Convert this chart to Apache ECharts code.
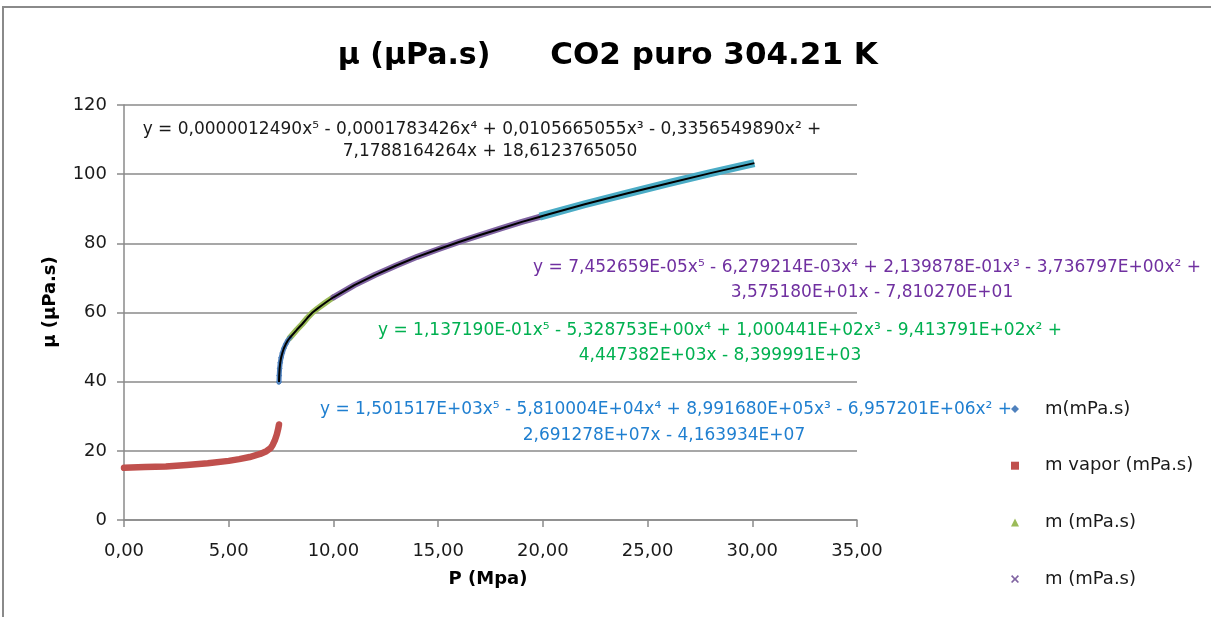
<!DOCTYPE html>
<html>
<head>
<meta charset="utf-8">
<script src="https://cdn.jsdelivr.net/npm/echarts@6/dist/echarts.min.js"></script>
<style>
  html, body { margin: 0; padding: 0; background: #ffffff; }
  #chart { width: 1211px; height: 617px; }
</style>
</head>
<body>
<div id="chart"></div>
<script>
// ---- axis ticks ----
const xTicks = [0, 5, 10, 15, 20, 25, 30, 35];
const yTicks = [0, 20, 40, 60, 80, 100, 120];

// ---- saturated vapour branch, P (MPa) / viscosity (µPa.s) ----
const vaporP  = [0.00, 1.00, 2.00, 3.00, 4.00, 5.00, 5.50, 6.00, 6.50, 6.80, 7.00, 7.10, 7.20, 7.30, 7.36, 7.40];
const vaporMu = [15.1, 15.3, 15.5, 15.9, 16.4, 17.1, 17.6, 18.2, 19.1, 19.9, 20.8, 21.7, 23.0, 24.8, 26.3, 27.6];

// ---- dense branch, split in four pressure ranges ----
const blueP   = [7.40, 7.41, 7.43, 7.46, 7.50, 7.56, 7.63, 7.72, 7.82, 7.92];
const blueMu  = [39.9, 41.8, 43.8, 45.5, 46.9, 48.3, 49.6, 50.8, 51.9, 52.7];

const greenP  = [7.92, 8.00, 8.25, 8.50, 8.75, 9.00, 9.25, 9.50, 9.75, 10.00];
const greenMu = [52.7, 53.1, 55.0, 56.6, 58.4, 60.0, 61.2, 62.3, 63.4, 64.4];

const purpleP  = [10, 11, 12, 13, 14, 15, 16, 17, 18, 19, 20];
const purpleMu = [64.4, 67.9, 70.9, 73.6, 76.1, 78.3, 80.4, 82.4, 84.3, 86.2, 87.9];

const cyanP  = [19.85, 22, 24, 26, 28, 30.1];
const cyanMu = [87.7, 91.3, 94.4, 97.4, 100.3, 103.2];

// ---- legend labels ----
const legendNames = ['m(mPa.s)', 'm vapor (mPa.s)', 'm (mPa.s)', 'm (mPa.s)'];

// ---- polynomial fit labels ----
const eqBlack = [
  'y = 0,0000012490x\u2075 - 0,0001783426x\u2074 + 0,0105665055x\u00B3 - 0,3356549890x\u00B2 +',
  '7,1788164264x + 18,6123765050'
];
const eqPurple = [
  'y = 7,452659E-05x\u2075 - 6,279214E-03x\u2074 + 2,139878E-01x\u00B3 - 3,736797E+00x\u00B2 +',
  '3,575180E+01x - 7,810270E+01'
];
const eqGreen = [
  'y = 1,137190E-01x\u2075 - 5,328753E+00x\u2074 + 1,000441E+02x\u00B3 - 9,413791E+02x\u00B2 +',
  '4,447382E+03x - 8,399991E+03'
];
const eqBlue = [
  'y = 1,501517E+03x\u2075 - 5,810004E+04x\u2074 + 8,991680E+05x\u00B3 - 6,957201E+06x\u00B2 +',
  '2,691278E+07x - 4,163934E+07'
];

const FONT = '"DejaVu Sans", "Liberation Sans", sans-serif';
const GRID_GRAY = '#8a8a8a';

const zip = (xs, ys) => xs.map((x, i) => [x, ys[i]]);

const blueData   = zip(blueP, blueMu);
const vaporData  = zip(vaporP, vaporMu);
const greenData  = zip(greenP, greenMu);
const purpleData = zip(purpleP, purpleMu);
const cyanData   = zip(cyanP, cyanMu);
const denseFit   = blueData.concat(greenData.slice(1), purpleData.slice(1), cyanData);

const seriesIds = ['sBlue', 'sVapor', 'sGreen', 'sPurple'];
const labelById = {};
seriesIds.forEach((id, i) => { labelById[id] = legendNames[i]; });

function textEl(text, x, y, font, color) {
  return {
    type: 'text',
    silent: true,
    style: {
      text: text, x: x, y: y, fill: color, font: font,
      align: 'center', textAlign: 'center',
      verticalAlign: 'middle', textVerticalAlign: 'middle'
    }
  };
}

function eqText(lines, cx1, cx2, y1, y2, color) {
  return [
    textEl(lines[0], cx1, y1, '17px ' + FONT, color),
    textEl(lines[1], cx2, y2, '17px ' + FONT, color)
  ];
}

const chart = echarts.init(document.getElementById('chart'), null, { renderer: 'canvas' });

const option = {
  backgroundColor: '#ffffff',
  animation: false,
  textStyle: { fontFamily: FONT },
  grid: { left: 124, right: 354, top: 105, bottom: 97, containLabel: false },
  xAxis: {
    type: 'value',
    min: xTicks[0],
    max: xTicks[xTicks.length - 1],
    interval: xTicks[1] - xTicks[0],
    axisLine: { show: true, onZero: false, lineStyle: { color: GRID_GRAY, width: 1.5 } },
    axisTick: { show: true, inside: false, length: 7, lineStyle: { color: GRID_GRAY, width: 1.5 } },
    splitLine: { show: false },
    axisLabel: {
      color: '#1a1a1a', fontSize: 18, fontFamily: FONT, margin: 22,
      formatter: v => v.toFixed(2).replace('.', ',')
    }
  },
  yAxis: {
    type: 'value',
    min: yTicks[0],
    max: yTicks[yTicks.length - 1],
    interval: yTicks[1] - yTicks[0],
    axisLine: { show: true, lineStyle: { color: GRID_GRAY, width: 1.5 } },
    axisTick: { show: true, inside: false, length: 7, lineStyle: { color: GRID_GRAY, width: 1.5 } },
    splitLine: { show: true, lineStyle: { color: GRID_GRAY, width: 1.5 } },
    axisLabel: { color: '#1a1a1a', fontSize: 18, fontFamily: FONT, margin: 17 }
  },
  legend: {
    orient: 'vertical',
    left: 1006,
    top: 395,
    itemGap: 38.7,
    itemWidth: 8,
    itemHeight: 8,
    symbolKeepAspect: true,
    selectedMode: false,
    textStyle: { fontSize: 18, fontFamily: FONT, color: '#1a1a1a', padding: [0, 0, 0, 21] },
    formatter: name => labelById[name] || name,
    data: [
      { name: 'sBlue', icon: 'diamond' },
      { name: 'sVapor', icon: 'rect' },
      { name: 'sGreen', icon: 'triangle' },
      { name: 'sPurple', icon: 'path://M0,1.5 L1.5,0 L5,3.5 L8.5,0 L10,1.5 L6.5,5 L10,8.5 L8.5,10 L5,6.5 L1.5,10 L0,8.5 L3.5,5 Z' }
    ]
  },
  series: [
    {
      name: 'sVapor', id: 'sVapor', type: 'line', data: vaporData,
      color: '#C0504D', showSymbol: false, symbol: 'rect', z: 3,
      lineStyle: { color: '#C0504D', width: 6.5, cap: 'round', join: 'round' }
    },
    {
      name: 'sBlue', id: 'sBlue', type: 'line', data: blueData,
      color: '#4F81BD', showSymbol: true, symbol: 'diamond', symbolSize: 6, z: 3,
      itemStyle: { color: '#4F81BD' },
      lineStyle: { color: '#4F81BD', width: 5, cap: 'round', join: 'round' }
    },
    {
      name: 'sGreen', id: 'sGreen', type: 'line', data: greenData,
      color: '#9BBB59', showSymbol: false, symbol: 'triangle', z: 3,
      lineStyle: { color: '#9BBB59', width: 6, cap: 'round', join: 'round' }
    },
    {
      name: 'sPurple', id: 'sPurple', type: 'line', data: purpleData,
      color: '#8064A2', showSymbol: false, z: 3,
      lineStyle: { color: '#8064A2', width: 6, cap: 'round', join: 'round' }
    },
    {
      name: 'sCyan', id: 'sCyan', type: 'line', data: cyanData,
      color: '#4BACC6', showSymbol: false, z: 3,
      lineStyle: { color: '#4BACC6', width: 8, cap: 'butt', join: 'round' }
    },
    {
      name: 'fit', id: 'fit', type: 'line', data: denseFit,
      color: '#000000', showSymbol: false, silent: true, z: 4,
      lineStyle: { color: '#000000', width: 2, join: 'round' }
    }
  ],
  graphic: [
    {
      type: 'rect', silent: true, z: -10,
      shape: { x: 3, y: 7, width: 1400, height: 800 },
      style: { fill: 'none', stroke: '#8a8a8a', lineWidth: 2 }
    },
    textEl('\u03BC (\u03BCPa.s)', 414, 56, 'bold 30px ' + FONT, '#000'),
    textEl('CO2 puro 304.21 K', 714, 56, 'bold 31px ' + FONT, '#000'),
    textEl('P (Mpa)', 488, 579, 'bold 18px ' + FONT, '#000'),
    {
      type: 'text', silent: true, x: 50, y: 302, rotation: Math.PI / 2,
      style: {
        text: '\u03BC (\u03BCPa.s)', x: 0, y: 0, fill: '#000',
        font: 'bold 18px ' + FONT, align: 'center', textAlign: 'center',
        verticalAlign: 'middle', textVerticalAlign: 'middle'
      }
    }
  ]
    .concat(eqText(eqBlack, 482, 490, 130, 152, '#1a1a1a'))
    .concat(eqText(eqPurple, 867, 872, 268, 293, '#7030A0'))
    .concat(eqText(eqGreen, 720, 720, 331, 356, '#00B050'))
    .concat(eqText(eqBlue, 666, 664, 410, 436, '#1F7FD0'))
};

chart.setOption(option);
</script>
</body>
</html>
